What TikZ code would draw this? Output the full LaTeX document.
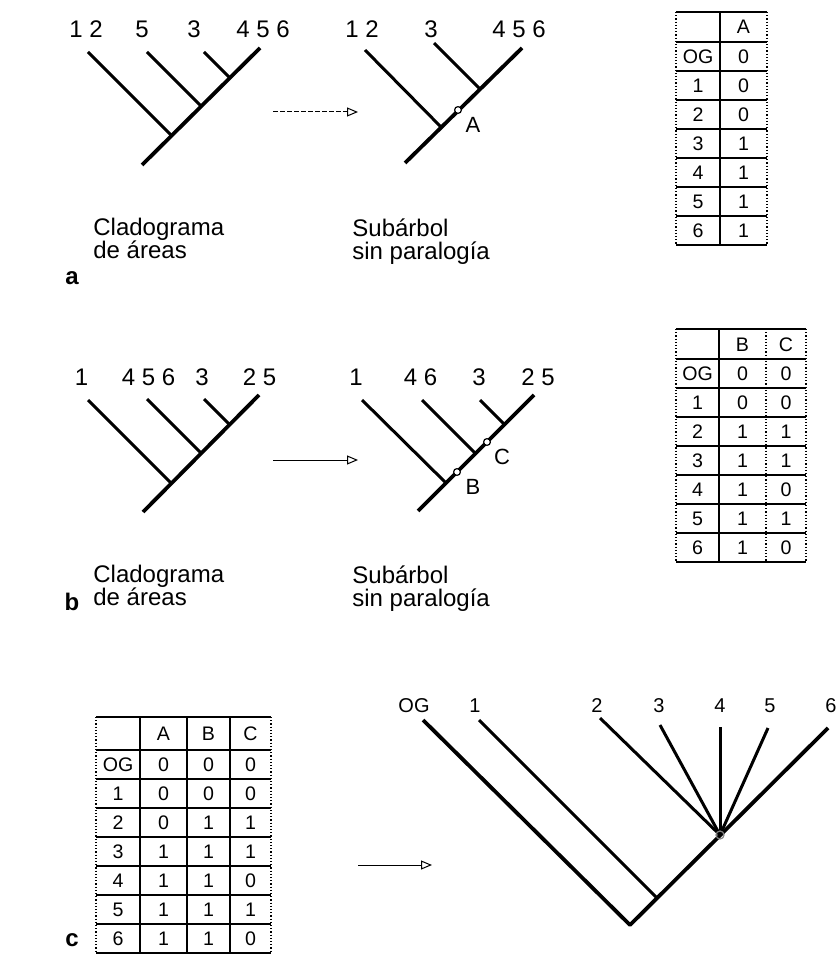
\documentclass[tikz,border=0pt]{standalone}
\usepackage{fontspec}
\setmainfont{Liberation Sans}
\usetikzlibrary{arrows.meta}
\begin{document}
\begin{tikzpicture}[x=0.5pt,y=-0.5pt,line join=bevel,
  stem/.style={line width=1.9pt},
  branch/.style={line width=1.5pt},
  flow/.style={-{Triangle[open,length=5.5pt,width=4.5pt]},line width=0.5pt},
  tabline/.style={line width=0.6pt},
  tabedge/.style={line width=0.6pt,densely dotted},
  lab/.style={anchor=base,inner sep=0pt,font=\fontsize{12}{14}\selectfont},
  smalllab/.style={anchor=base,inner sep=0pt,font=\fontsize{10}{12}\selectfont},
  cell/.style={inner sep=0pt,text height=7pt,text depth=0pt,font=\fontsize{9.8}{11}\selectfont},
  caption/.style={anchor=north west,inner sep=0pt,align=left,font=\fontsize{12}{11.5}\selectfont},
  part/.style={inner sep=0pt,font=\fontsize{12}{14}\selectfont\bfseries},
  apomorph/.style={circle,draw,fill=white,line width=0.6pt,inner sep=0pt,minimum size=3.4pt},
  nodelab/.style={inner sep=0pt,font=\fontsize{11}{12}\selectfont},
]
\useasboundingbox (0,0) rectangle (837,956);
%%
  % --- a: cladograma de areas
  \coordinate (a_root) at (142,165);
  \coordinate (a_j1) at (172,136);
  \coordinate (a_j2) at (201.5,106.5);
  \coordinate (a_j3) at (230,78);
  \coordinate (a_t12) at (88,52);
  \coordinate (a_t5) at (147,52);
  \coordinate (a_t3) at (204,52);
  \coordinate (a_t456) at (260,48);
  \node (a_l12) at (86,38) [lab] {1 2};
  \node (a_l5) at (142,38) [lab] {5};
  \node (a_l3) at (194,38) [lab] {3};
  \node (a_l456) at (263,38) [lab] {4 5 6};
  \draw [stem] (a_root) -- (a_t456);
  \draw [branch] (a_j1) -- (a_t12);
  \draw [branch] (a_j2) -- (a_t5);
  \draw [branch] (a_j3) -- (a_t3);
  \node (a_cap) at (93,218) [caption] {Cladograma\\de áreas};
  \node (a_part) at (72,278) [part] {a};

  \coordinate (a_arr_s) at (273,112);
  \coordinate (a_arr_e) at (358,112);
  \draw [flow,dash pattern=on 2.5pt off 1pt] (a_arr_s) -- (a_arr_e);

  % --- a: subarbol
  \coordinate (sa_root) at (405,163);
  \coordinate (sa_j1) at (441,127);
  \coordinate (sa_j2) at (479.5,88.5);
  \coordinate (sa_t12) at (365,50);
  \coordinate (sa_t3) at (434,43);
  \coordinate (sa_t456) at (522,48);
  \node (sa_l12) at (362,38) [lab] {1 2};
  \node (sa_l3) at (431,38) [lab] {3};
  \node (sa_l456) at (519,38) [lab] {4 5 6};
  \draw [stem] (sa_root) -- (sa_t456);
  \draw [branch] (sa_j1) -- (sa_t12);
  \draw [branch] (sa_j2) -- (sa_t3);
  \node (sa_A) at (458,110) [apomorph] {};
  \node (sa_lA) at (473,125) [nodelab] {A};
  \node (sa_cap) at (352,218) [caption] {Subárbol\\sin paralogía};

  % --- b: cladograma de areas
  \coordinate (b_root) at (143,512);
  \coordinate (b_j1) at (171.5,483.5);
  \coordinate (b_j2) at (201.5,453.5);
  \coordinate (b_j3) at (230,425);
  \coordinate (b_t1) at (88,400);
  \coordinate (b_t456) at (147,399);
  \coordinate (b_t3) at (204,399);
  \coordinate (b_t25) at (259,395);
  \node (b_l1) at (81.5,386) [lab] {1};
  \node (b_l456) at (148.5,386) [lab] {4 5 6};
  \node (b_l3) at (202,386) [lab] {3};
  \node (b_l25) at (259.5,386) [lab] {2 5};
  \draw [stem] (b_root) -- (b_t25);
  \draw [branch] (b_j1) -- (b_t1);
  \draw [branch] (b_j2) -- (b_t456);
  \draw [branch] (b_j3) -- (b_t3);
  \node (b_cap) at (93,565) [caption] {Cladograma\\de áreas};
  \node (b_part) at (72,602) [part] {b};

  \coordinate (b_arr_s) at (273,460);
  \coordinate (b_arr_e) at (358,460);
  \draw [flow] (b_arr_s) -- (b_arr_e);

  % --- b: subarbol
  \coordinate (sb_root) at (418,511);
  \coordinate (sb_j1) at (446,483);
  \coordinate (sb_j2) at (475.5,453.5);
  \coordinate (sb_j3) at (504.5,424.5);
  \coordinate (sb_t1) at (362,400);
  \coordinate (sb_t46) at (422,400);
  \coordinate (sb_t3) at (480,400);
  \coordinate (sb_t25) at (534,395);
  \node (sb_l1) at (356,386) [lab] {1};
  \node (sb_l46) at (420.5,386) [lab] {4 6};
  \node (sb_l3) at (479,386) [lab] {3};
  \node (sb_l25) at (538,386) [lab] {2 5};
  \draw [stem] (sb_root) -- (sb_t25);
  \draw [branch] (sb_j1) -- (sb_t1);
  \draw [branch] (sb_j2) -- (sb_t46);
  \draw [branch] (sb_j3) -- (sb_t3);
  \node (sb_B) at (457,472) [apomorph] {};
  \node (sb_C) at (487,442) [apomorph] {};
  \node (sb_lB) at (473,487) [nodelab] {B};
  \node (sb_lC) at (502,457) [nodelab] {C};
  \node (sb_cap) at (352,565) [caption] {Subárbol\\sin paralogía};

  % --- tabla A
  \foreach \y in {12,42,71,100,129,158,187,216,245}
    \draw [tabline] (676,\y) -- (767,\y);
  \draw [tabedge] (676,12) -- (676,245);
  \draw [tabline] (720,12) -- (720,245);
  \draw [tabedge] (767,12) -- (767,245);
  \node (ta_0_1) at (743.5,27) [cell] {A};
  \foreach \lab/\va [count=\i] in {OG/0,1/0,2/0,3/1,4/1,5/1,6/1} {
    \node (ta_\i_0) at (698,{56.5+29*(\i-1)}) [cell] {\lab};
    \node (ta_\i_1) at (743.5,{56.5+29*(\i-1)}) [cell] {\va};
  }

  % --- tabla B C
  \foreach \y in {329,359,388,417,446,475,504,533,562}
    \draw [tabline] (676,\y) -- (806,\y);
  \draw [tabedge] (676,329) -- (676,562);
  \draw [tabline] (719,329) -- (719,562);
  \draw [tabedge] (766,329) -- (766,562);
  \draw [tabedge] (806,329) -- (806,562);
  \node (tb_0_1) at (742.5,344) [cell] {B};
  \node (tb_0_2) at (786,344) [cell] {C};
  \foreach \lab/\vb/\vc [count=\i] in {OG/0/0,1/0/0,2/1/1,3/1/1,4/1/0,5/1/1,6/1/0} {
    \node (tb_\i_0) at (697.5,{373.5+29*(\i-1)}) [cell] {\lab};
    \node (tb_\i_1) at (742.5,{373.5+29*(\i-1)}) [cell] {\vb};
    \node (tb_\i_2) at (786,{373.5+29*(\i-1)}) [cell] {\vc};
  }

  % --- c: tabla A B C
  \foreach \y in {717,750,779,808,837,866,895,924,953}
    \draw [tabline] (96,\y) -- (271,\y);
  \draw [tabedge] (96,717) -- (96,953);
  \draw [tabline] (140,717) -- (140,953);
  \draw [tabline] (187,717) -- (187,953);
  \draw [tabline] (230,717) -- (230,953);
  \draw [tabedge] (271,717) -- (271,953);
  \node (tc_0_1) at (163.5,733.5) [cell] {A};
  \node (tc_0_2) at (208.5,733.5) [cell] {B};
  \node (tc_0_3) at (250.5,733.5) [cell] {C};
  \foreach \lab/\va/\vb/\vc [count=\i] in {OG/0/0/0,1/0/0/0,2/0/1/1,3/1/1/1,4/1/1/0,5/1/1/1,6/1/1/0} {
    \node (tc_\i_0) at (118,{764.5+29*(\i-1)}) [cell] {\lab};
    \node (tc_\i_1) at (163.5,{764.5+29*(\i-1)}) [cell] {\va};
    \node (tc_\i_2) at (208.5,{764.5+29*(\i-1)}) [cell] {\vb};
    \node (tc_\i_3) at (250.5,{764.5+29*(\i-1)}) [cell] {\vc};
  }
  \node (c_part) at (72,940) [part] {c};

  \coordinate (c_arr_s) at (358,865);
  \coordinate (c_arr_e) at (432,865);
  \draw [flow] (c_arr_s) -- (c_arr_e);

  % --- c: cladograma general
  \coordinate (c_root) at (630,925);
  \coordinate (c_j1) at (657,898);
  \coordinate (c_poly) at (720,835);
  \coordinate (c_tOG) at (423,720);
  \coordinate (c_t1) at (479,720);
  \coordinate (c_t2) at (600,718);
  \coordinate (c_t3) at (660,725);
  \coordinate (c_t4) at (720,727);
  \coordinate (c_t5) at (768,728);
  \coordinate (c_t6) at (828,728);
  \node (c_lOG) at (414,712) [smalllab] {OG};
  \node (c_l1) at (475,712) [smalllab] {1};
  \node (c_l2) at (597,712) [smalllab] {2};
  \node (c_l3) at (659,712) [smalllab] {3};
  \node (c_l4) at (720,712) [smalllab] {4};
  \node (c_l5) at (770,712) [smalllab] {5};
  \node (c_l6) at (831,712) [smalllab] {6};
  \draw [stem] (c_tOG) -- (c_root) -- (c_t6);
  \draw [branch] (c_j1) -- (c_t1);
  \draw [branch] (c_poly) -- (c_t2);
  \draw [branch] (c_poly) -- (c_t3);
  \draw [branch] (c_poly) -- (c_t4);
  \draw [branch] (c_poly) -- (c_t5);
  \node (c_mark) at (c_poly) [apomorph,draw=gray,fill=none,minimum size=4pt] {};
%
\end{tikzpicture}
\end{document}
